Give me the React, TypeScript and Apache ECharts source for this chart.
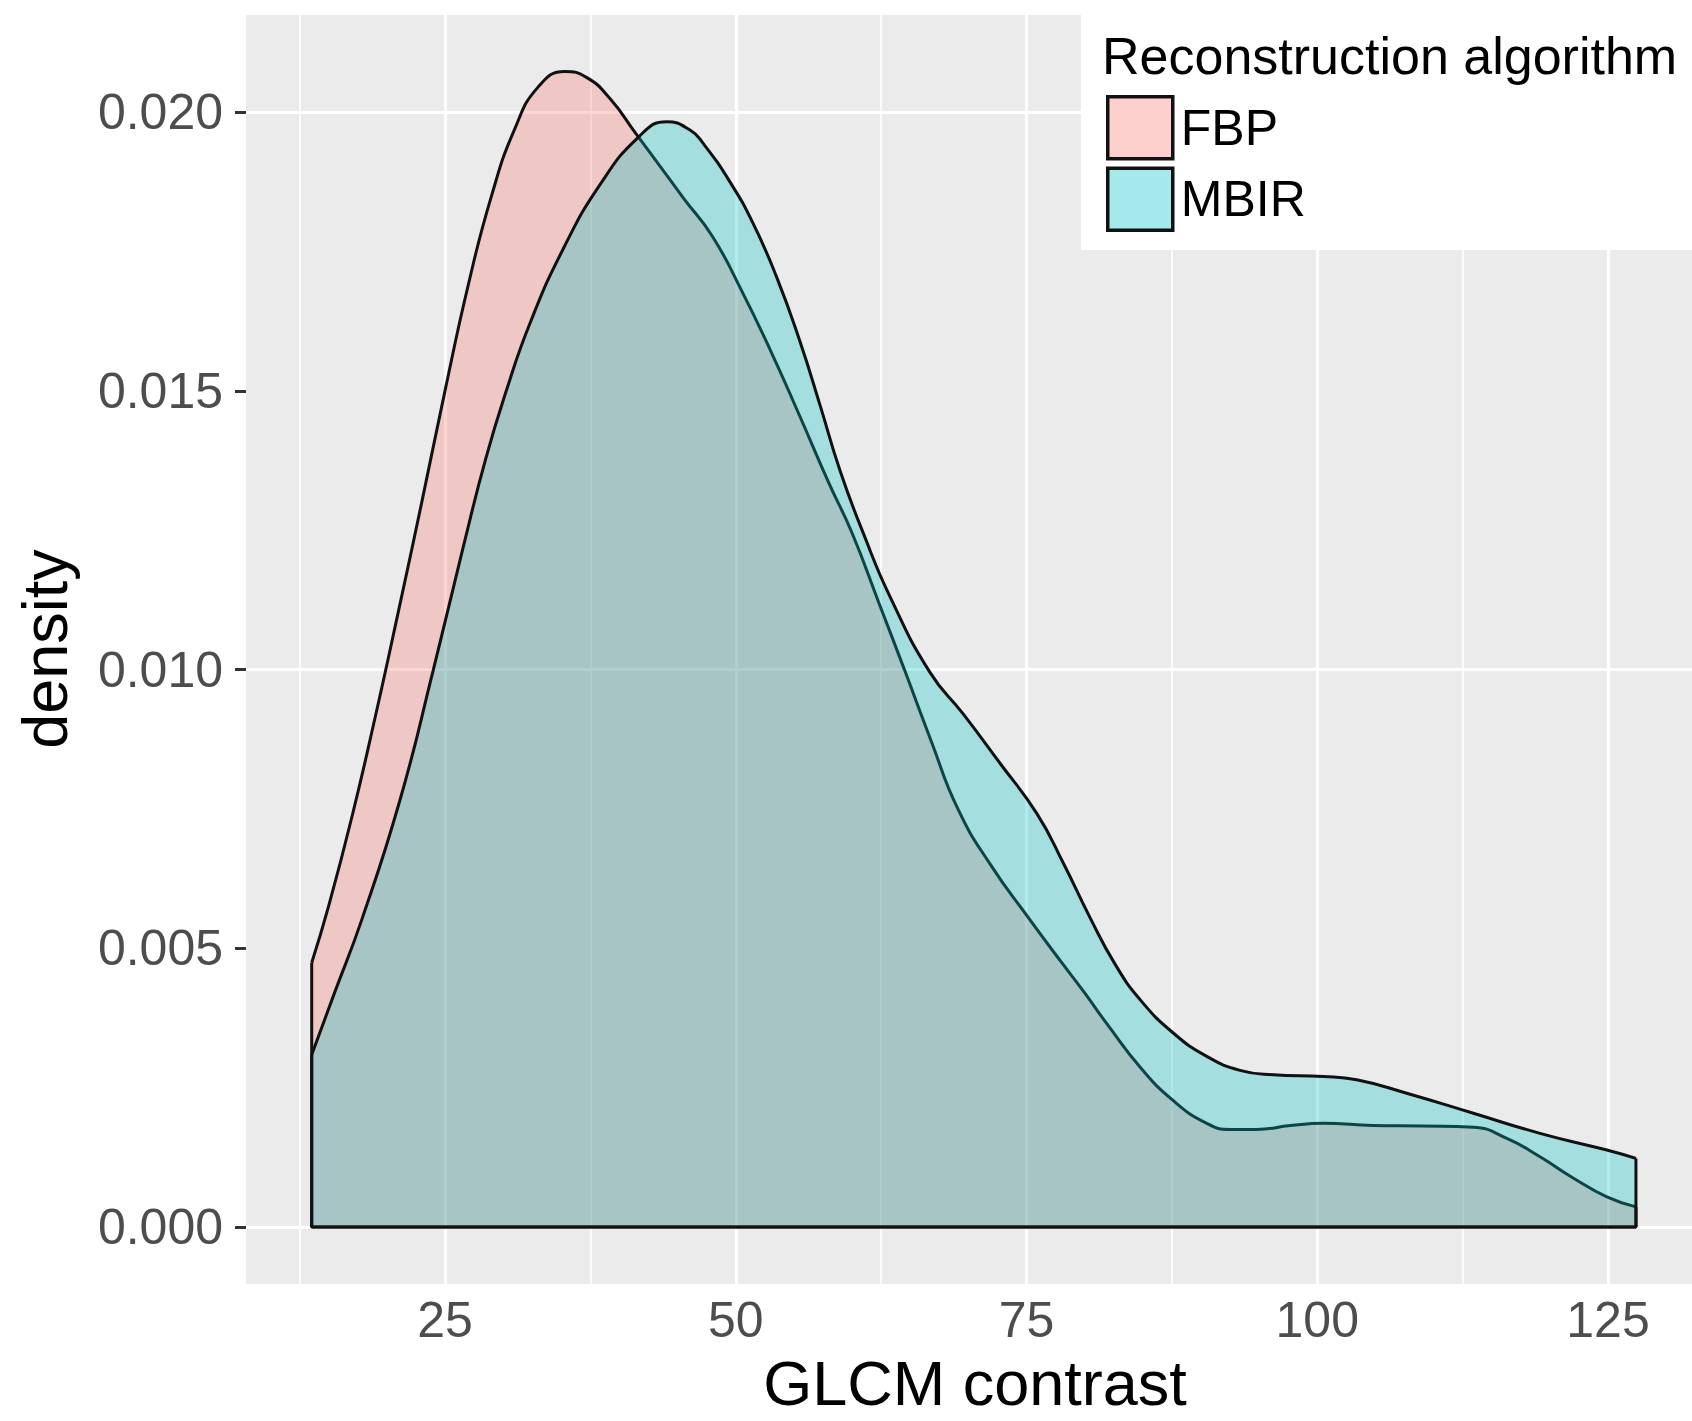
import React, { useEffect, useRef } from "react";
import * as echarts from "echarts";

// ---- data ----
const groups = ["FBP", "MBIR"];
const groupColors = ["#F8766D", "#00BFC4"];

const fbpX = [13.54, 15, 17, 19, 21, 23, 25, 27, 29, 31, 33, 35.3, 37.2, 39.2, 41.4, 43.5, 45.5, 48, 50.5, 53, 55.5, 58, 60, 62.3, 64.5, 66.8, 69.1, 71.9, 75.3, 78, 80, 82, 84.76, 87.6, 90.5, 92.5, 94.8, 97.7, 100.5, 104.8, 109.1, 113.4, 116.3, 119.15, 122, 124.9, 127.4];
const fbpY = [0.00474, 0.00576, 0.00736, 0.00915, 0.01105, 0.013, 0.015, 0.0169, 0.0185, 0.0197, 0.02045, 0.02073, 0.02062, 0.02024, 0.01962, 0.01903, 0.01846, 0.01777, 0.0168, 0.01572, 0.01455, 0.01335, 0.01245, 0.0112, 0.01, 0.00872, 0.0075, 0.0065, 0.00551, 0.00475, 0.0042, 0.00362, 0.00287, 0.00227, 0.00186, 0.00175, 0.00175, 0.00182, 0.00186, 0.00182, 0.00181, 0.00179, 0.00159, 0.00126, 0.00088, 0.00054, 0.00036];

const mbirX = [13.54, 15.5, 17.84, 21.13, 23.99, 26.57, 28.5, 30.3, 32.3, 35.17, 38.33, 41.62, 44.06, 46.07, 47.2, 49.5, 51.5, 53.5, 55.5, 57.24, 59, 61, 63.26, 66.7, 69.57, 72.72, 75.88, 78.16, 80.46, 82.6, 84.76, 87.62, 90.5, 93.36, 96.22, 100.52, 103.39, 107.69, 113.42, 119.15, 124.9, 127.4];
const mbirY = [0.00309, 0.0042, 0.00551, 0.00766, 0.00999, 0.0122, 0.01378, 0.01502, 0.01621, 0.01755, 0.0187, 0.01955, 0.01983, 0.01968, 0.01944, 0.01875, 0.018, 0.01705, 0.0159, 0.01475, 0.01355, 0.01243, 0.01131, 0.00995, 0.0092, 0.00832, 0.00742, 0.00653, 0.00555, 0.00472, 0.00408, 0.00348, 0.00306, 0.00281, 0.00273, 0.0027, 0.00264, 0.0024, 0.00204, 0.00168, 0.00138, 0.00123];

const xTicks = [25, 50, 75, 100, 125];
const xMinor = [12.5, 37.5, 62.5, 87.5, 112.5];
const yTicks = [0, 0.005, 0.01, 0.015, 0.02];
const yMinor = [0.0025, 0.0075, 0.0125, 0.0175];

const xRange = [7.89, 132.22];
const yRange = [-0.001023, 0.021744];

const xTitle = "GLCM contrast";
const yTitle = "density";
const legendTitle = "Reconstruction algorithm";

// ---- layout ----
const W = 1692;
const H = 1421;
const FONT = '"Liberation Sans", Arial, Helvetica, sans-serif';

function rgba(hex: string, a: number) {
  const n = parseInt(hex.slice(1), 16);
  return `rgba(${(n >> 16) & 255},${(n >> 8) & 255},${n & 255},${a})`;
}

export default function App() {
  const ref = useRef<HTMLDivElement>(null);

  useEffect(() => {
    const chart = echarts.init(ref.current!, null, { renderer: "svg", width: W, height: H });
    const curves = [
      { name: groups[0], x: fbpX, y: fbpY },
      { name: groups[1], x: mbirX, y: mbirY },
    ];

    const gridMarks: any[] = [
      ...xMinor.map((v) => ({ xAxis: v, lineStyle: { color: "#FFFFFF", width: 1.6, type: "solid" } })),
      ...yMinor.map((v) => ({ yAxis: v, lineStyle: { color: "#FFFFFF", width: 1.6, type: "solid" } })),
      ...xTicks.map((v) => ({ xAxis: v, lineStyle: { color: "#FFFFFF", width: 3.2, type: "solid" } })),
      ...yTicks.map((v) => ({ yAxis: v, lineStyle: { color: "#FFFFFF", width: 3.2, type: "solid" } })),
    ];

    const series: any[] = [];
    curves.forEach((c, i) => {
      const n = c.x.length;
      series.push({
        name: c.name,
        type: "line",
        data: c.x.map((x, k) => [x, c.y[k]]),
        smooth: 0.5,
        symbol: "none",
        showSymbol: false,
        silent: true,
        z: 2 + i * 2,
        lineStyle: { color: "#111111", width: 3 },
        itemStyle: { color: rgba(groupColors[i], 0.3) },
        areaStyle: { color: rgba(groupColors[i], 0.3), opacity: 1 },
      });
      const edge: any = {
        name: c.name + " outline",
        type: "line",
        data: [
          [c.x[0], c.y[0]],
          [c.x[0], 0],
          [c.x[n - 1], 0],
          [c.x[n - 1], c.y[n - 1]],
        ],
        symbol: "none",
        showSymbol: false,
        silent: true,
        z: 3 + i * 2,
        lineStyle: { color: "#111111", width: 3 },
      };
      if (i === 0) {
        edge.markLine = {
          silent: true,
          z: 1,
          symbol: ["none", "none"],
          label: { show: false },
          emphasis: { disabled: true },
          animation: false,
          data: gridMarks,
        };
      }
      series.push(edge);
    });

    const option: any = {
      animation: false,
      backgroundColor: "#FFFFFF",
      textStyle: { fontFamily: FONT },
      grid: {
        left: 246,
        top: 15,
        right: 0,
        bottom: H - 1284,
        show: true,
        backgroundColor: "#EBEBEB",
        borderWidth: 0,
        containLabel: false,
        outerBoundsMode: "none",
      },
      xAxis: {
        type: "value",
        min: xRange[0],
        max: xRange[1],
        axisLine: { show: false },
        splitLine: { show: false },
        axisTick: { show: true, customValues: xTicks, length: 11, lineStyle: { color: "#333333", width: 3 } },
        axisLabel: {
          customValues: xTicks,
          fontSize: 50,
          color: "#4D4D4D",
          margin: 11,
          fontFamily: FONT,
          formatter: (v: number) => String(v),
        },
      },
      yAxis: {
        type: "value",
        min: yRange[0],
        max: yRange[1],
        axisLine: { show: false },
        splitLine: { show: false },
        axisTick: { show: true, customValues: yTicks, length: 11, lineStyle: { color: "#333333", width: 3 } },
        axisLabel: {
          customValues: yTicks,
          fontSize: 50,
          color: "#4D4D4D",
          margin: 23,
          fontFamily: FONT,
          formatter: (v: number) => v.toFixed(3),
        },
      },
      legend: {
        orient: "vertical",
        left: 1106,
        top: 95,
        itemWidth: 65,
        itemHeight: 62,
        itemGap: 6,
        padding: 0,
        z: 20,
        selectedMode: false,
        textStyle: { fontSize: 50, color: "#000000", fontFamily: FONT, padding: [0, 0, 0, 3] },
        data: curves.map((c, i) => ({
          name: c.name,
          icon: "rect",
          itemStyle: { color: rgba(groupColors[i], 0.35), borderColor: "#111111", borderWidth: 3.5 },
        })),
      },
      graphic: [
        {
          type: "rect",
          z: 10,
          silent: true,
          shape: { x: 1081, y: 0, width: W - 1081, height: 250 },
          style: { fill: "#FFFFFF" },
        },
        {
          type: "text",
          z: 21,
          x: 1102,
          y: 30,
          style: { text: legendTitle, fontSize: 52, fontFamily: FONT, fill: "#000000", align: "left", verticalAlign: "top" },
        },
        {
          type: "text",
          z: 21,
          x: 975,
          y: 1351,
          style: { text: xTitle, fontSize: 63, fontFamily: FONT, fill: "#000000", align: "center", verticalAlign: "top" },
        },
        {
          type: "text",
          z: 21,
          x: 45,
          y: 649,
          rotation: Math.PI / 2,
          style: { text: yTitle, fontSize: 63, fontFamily: FONT, fill: "#000000", align: "center", verticalAlign: "middle" },
        },
      ],
      series,
    };

    chart.setOption(option);
    return () => chart.dispose();
  }, []);

  return (
    <div
      ref={ref}
      style={{ position: "absolute", left: 0, top: 0, width: W, height: H, background: "#FFFFFF" }}
    />
  );
}
